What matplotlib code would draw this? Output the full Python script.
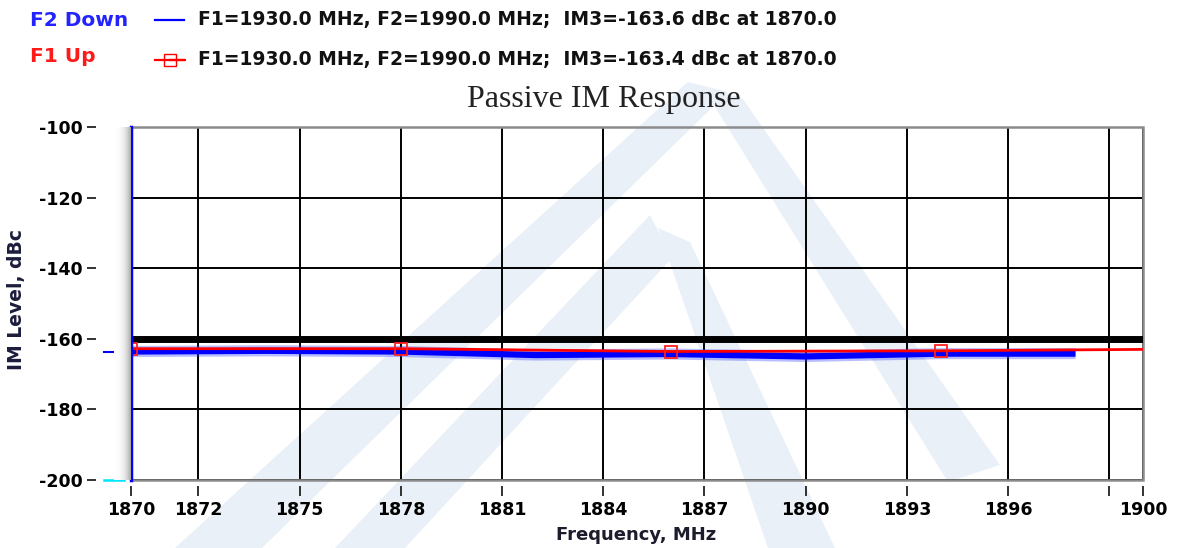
import numpy as np
import matplotlib
matplotlib.use("Agg")
import matplotlib.pyplot as plt
import matplotlib.transforms as mtransforms
from matplotlib.lines import Line2D
from matplotlib.patches import Polygon, Rectangle

plt.rcParams['font.family'] = ['DejaVu Sans']
plt.rcParams['axes.unicode_minus'] = False

# data
freq_down = [1870, 1874, 1878, 1882, 1886, 1890, 1894, 1898]
im_down = [-163.6, -163.4, -163.6, -164.6, -164.3, -165.0, -164.2, -164.2]
freq_up = [1870, 1878, 1886, 1894, 1900]
im_up = [-162.8, -162.8, -163.6, -163.4, -163.0]
limit_level = -160.0

xticks = [1870, 1872, 1875, 1878, 1881, 1884, 1887, 1890, 1893, 1896, 1899, 1900]
xticklabels = ['1870', '1872', '1875', '1878', '1881', '1884', '1887', '1890', '1893', '1896', '', '1900']
yticks = [-200, -180, -160, -140, -120, -100]

legend_down = 'F1=1930.0 MHz, F2=1990.0 MHz;  IM3=-163.6 dBc at 1870.0'
legend_up = 'F1=1930.0 MHz, F2=1990.0 MHz;  IM3=-163.4 dBc at 1870.0'

W, H = 1178, 548
fig = plt.figure(figsize=(W / 100, H / 100), dpi=100)


def fx(px):
    return px / W


def fy(py):
    return 1 - py / H


# faint logo watermark, on a background axes behind everything
bg = fig.add_axes([0, 0, 1, 1], zorder=-10)
bg.set_xlim(0, W)
bg.set_ylim(H, 0)
bg.axis('off')
wm = '#e9f0f7'
for pts in [
    [(175, 548), (262, 548), (728, 92), (688, 82)],
    [(702, 86), (742, 98), (1000, 465), (948, 482)],
    [(335, 548), (405, 548), (672, 258), (650, 215)],
    [(658, 228), (690, 242), (835, 548), (768, 548)],
]:
    bg.add_patch(Polygon(pts, closed=True, fc=wm, ec='none'))

ax = fig.add_axes([fx(131), fy(480), fx(1143 - 131), (480 - 127) / H])
ax.set_facecolor('none')

# grey shading left of the plot area
gax = fig.add_axes([fx(114), fy(480), fx(17), (480 - 127) / H])
grad = np.linspace(0, 1, 64)[None, :] ** 2
gax.imshow(grad, aspect='auto', cmap='Greys', vmin=0, vmax=2.2, extent=[0, 1, 0, 1])
gax.axis('off')

ax.set_xlim(1870, 1900)
ax.set_ylim(-200, -100)
ax.set_xticks(xticks)
ax.set_xticklabels(xticklabels)
ax.set_yticks(yticks)
ax.grid(True, color='black', lw=1.4)
ax.set_axisbelow(True)

for s in ax.spines.values():
    s.set_visible(False)
ax.spines['left'].set_position(('outward', 25))
ax.spines['bottom'].set_position(('outward', 4))
ax.add_patch(Rectangle((0, 0), 1, 1, transform=ax.transAxes, fill=False,
                       ec='#8c8c8c', lw=1.8, clip_on=False, zorder=1))

ax.tick_params(axis='y', length=6.5, width=1.3, pad=3, color='#222222')
ax.tick_params(axis='x', length=7, width=1.3, pad=4, color='#222222')
for lab in ax.get_xticklabels() + ax.get_yticklabels():
    lab.set_fontweight('bold')
    lab.set_fontsize(12.5)

# traces
ax.axhline(limit_level, color='black', lw=5, zorder=3)
ax.plot(freq_down, im_down, color='#3344ff', lw=8, alpha=0.35, zorder=4, solid_capstyle='butt')
ax.plot(freq_down, im_down, color='#0000ff', lw=4.5, zorder=4, solid_capstyle='butt')
ax.plot(freq_up, im_up, color='#ff0000', lw=2, marker='s', markersize=9,
        markerfacecolor='none', markeredgecolor='#ff2020', markeredgewidth=1.3,
        markevery=[0, 1, 2, 3], zorder=5)
ax.axvline(1870, color='#0000ff', lw=2.5, zorder=6, clip_on=False)

blend = mtransforms.blended_transform_factory(ax.transAxes, ax.transData)
ax.plot([-0.027, -0.007], [im_down[0], im_down[0]], color='#0000ff', lw=1.5,
        transform=blend, clip_on=False)
ax.plot([-0.027, -0.007], [-200, -200], color='#00e5ff', lw=1.8,
        transform=blend, clip_on=False)

# axis labels and title
fig.text(fx(636), fy(535), 'Frequency, MHz', ha='center', va='center',
         fontsize=13, fontweight='bold', color='#1c1c2c')
fig.text(fx(17), fy(300), 'IM Level, dBc', ha='center', va='center', rotation=90,
         fontsize=13.5, fontweight='bold', color='#1c1c3c')
fig.text(fx(604), fy(100), 'Passive IM Response', ha='center', va='center',
         fontsize=23, family=['Liberation Serif', 'DejaVu Serif'], color='#222222')

# legend block at the top
fig.text(fx(30), fy(20), 'F2 Down', color='#2323ff', fontsize=14.5, fontweight='bold', va='center')
fig.text(fx(30), fy(57), 'F1 Up', color='#ff1a1a', fontsize=14.5, fontweight='bold', va='center')
fig.add_artist(Line2D([fx(155), fx(184)], [fy(20), fy(20)], color='#0000ff', lw=1.6,
                      transform=fig.transFigure))
fig.add_artist(Line2D([fx(155), fx(185), fx(170)], [fy(60), fy(60), fy(60)], color='#ff0000',
                      lw=1.6, marker='s', markersize=9, markerfacecolor='none',
                      markevery=[2], transform=fig.transFigure))
fig.text(fx(198), fy(20), legend_down, fontsize=13.5, fontweight='bold', va='center', color='#111111')
fig.text(fx(198), fy(60), legend_up, fontsize=13.5, fontweight='bold', va='center', color='#111111')

fig.savefig('out.png', dpi=100)
